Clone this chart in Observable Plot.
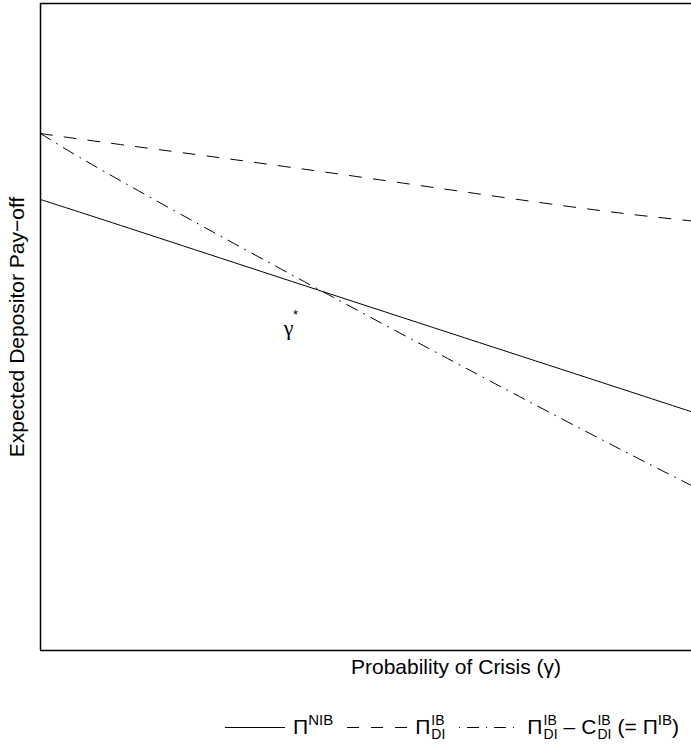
<!DOCTYPE html>
<html>
<head>
<meta charset="utf-8">
<script src="https://cdn.jsdelivr.net/npm/d3@7"></script>
<script src="https://cdn.jsdelivr.net/npm/@observablehq/plot@0.6"></script>
<style>
  html, body { margin: 0; padding: 0; background: white; overflow: hidden; }
  #wrap { position: relative; width: 691px; height: 747px; overflow: hidden; font-family: "Liberation Sans", Arial, Helvetica, sans-serif; }
  #chart svg { display: block; }
  #legend { position: absolute; left: 225px; top: 712px; height: 30px; display: flex; align-items: center; font-size: 21px; color: black; white-space: nowrap; }
  #legend svg { display: block; }
  .item { display: flex; align-items: center; margin-right: 14px; }
  .lab { margin-left: 8px; display: flex; align-items: center; }
  .sup { font-size: 15px; position: relative; top: -8px; }
  .ss { display: inline-flex; flex-direction: column; font-size: 14px; line-height: 14px; margin-left: 1px; }
  .sp { display: inline-block; width: 6px; }
</style>
</head>
<body>
<div id="wrap"><div id="chart"></div><div id="legend"></div></div>
<script>
// Probability of crisis (gamma) sample points
const gamma = [0, 0.123, 0.433, 0.799, 1];
// Expected depositor pay-off (0 = bottom, 1 = top of panel)
const piNIB  = [0.697, 0.657, 0.555, 0.435, 0.369];
const piDI   = [0.799, 0.782, 0.740, 0.688, 0.664];
const piIB   = [0.799, 0.726, 0.555, 0.359, 0.255];

const xLabel = "Probability of Crisis (γ)";
const yLabel = "Expected Depositor Pay−off";

const rows = gamma.map((g, i) => ({g, nib: piNIB[i], di: piDI[i], ib: piIB[i]}));

const annot = {x: 0.381, y: 0.498};

const font = "'Liberation Sans', Arial, Helvetica, sans-serif";

const chart = Plot.plot({
  width: 691,
  height: 700,
  marginLeft: 40,
  marginRight: 0,
  marginTop: 3,
  marginBottom: 50,
  x: {domain: [0, 1], axis: null},
  y: {domain: [0, 1], axis: null},
  style: {fontFamily: font, fontSize: "21px", background: "white", color: "black"},
  marks: [
    Plot.line(rows, {x: "g", y: "nib", curve: "natural", stroke: "black", strokeWidth: 1}),
    Plot.line(rows, {x: "g", y: "di", curve: "natural", stroke: "black", strokeWidth: 1, strokeDasharray: "12,12"}),
    Plot.line(rows, {x: "g", y: "ib", curve: "natural", stroke: "black", strokeWidth: 1, strokeDasharray: "12,7,1,7"}),
    Plot.ruleX([0], {stroke: "black", strokeWidth: 1.5}),
    Plot.ruleY([0, 1], {stroke: "black", strokeWidth: 1.5}),
    Plot.text([annot], {x: "x", y: "y", text: () => "γ", fontSize: 22, fontFamily: "'Liberation Serif', serif", fill: "black"}),
    Plot.text([annot], {x: "x", y: "y", text: () => "*", fontSize: 13, dx: 7, dy: -13, fill: "black"}),
    Plot.text([xLabel], {frameAnchor: "bottom", dx: 90, dy: 17, lineAnchor: "middle", fontSize: 21, fill: "black"}),
    Plot.text([yLabel], {frameAnchor: "left", rotate: -90, dx: -23, textAnchor: "middle", lineAnchor: "middle", fontSize: 21, fill: "black"})
  ]
});
document.getElementById("chart").appendChild(chart);

// Legend
const legendItems = [
  {dash: null, html: 'Π<span class="sup">NIB</span>'},
  {dash: "12,12", html: 'Π<span class="ss"><span>IB</span><span>DI</span></span>'},
  {dash: "1,7,12,7", html: 'Π<span class="ss"><span>IB</span><span>DI</span></span><span class="sp"></span>–<span class="sp"></span>C<span class="ss"><span>IB</span><span>DI</span></span><span class="sp"></span>(=<span class="sp"></span>Π<span class="sup">IB</span>)'}
];
const leg = d3.select("#legend");
legendItems.forEach(it => {
  const d = leg.append("div").attr("class", "item");
  const s = d.append("svg").attr("width", 60).attr("height", 10);
  s.append("line").attr("x1", 0).attr("x2", 60).attr("y1", 5.5).attr("y2", 5.5)
    .attr("stroke", "black").attr("stroke-width", 1)
    .attr("stroke-dasharray", it.dash);
  d.append("div").attr("class", "lab").html(it.html);
});
</script>
</body>
</html>
